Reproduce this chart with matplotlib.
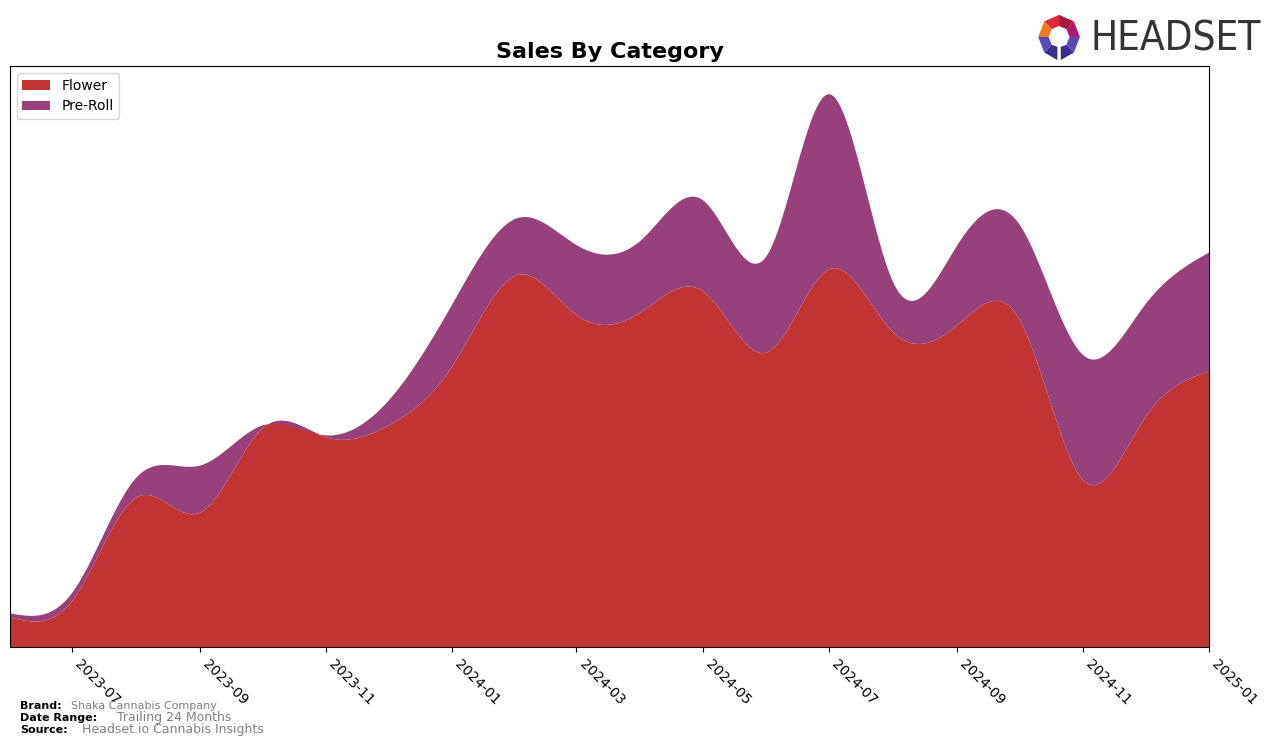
import numpy as np
import pandas as pd
import matplotlib.pyplot as plt
import matplotlib.dates as mdates
from matplotlib.patches import Polygon

months = pd.date_range('2023-06-01', '2025-01-01', freq='MS')
flower = [30, 47, 150, 135, 219, 210, 222, 282, 372, 332, 335, 356, 295, 378, 315, 322, 328, 167, 230, 276]
preroll = [4, 8, 20, 47, 3, 2, 25, 62, 57, 70, 72, 91, 97, 175, 50, 80, 95, 125, 113, 119]

colors = ['#c03434', '#974079']
labels = ['Flower', 'Pre-Roll']


def spline(x, y, xs):
    # natural cubic spline
    x = np.asarray(x, float)
    y = np.asarray(y, float)
    n = len(x)
    h = np.diff(x)
    A = np.zeros((n, n))
    b = np.zeros(n)
    A[0, 0] = A[-1, -1] = 1
    for i in range(1, n - 1):
        A[i, i - 1] = h[i - 1]
        A[i, i] = 2 * (h[i - 1] + h[i])
        A[i, i + 1] = h[i]
        b[i] = 3 * ((y[i + 1] - y[i]) / h[i] - (y[i] - y[i - 1]) / h[i - 1])
    c = np.linalg.solve(A, b)
    idx = np.clip(np.searchsorted(x, xs) - 1, 0, n - 2)
    dx = xs - x[idx]
    bb = (y[idx + 1] - y[idx]) / h[idx] - h[idx] * (2 * c[idx] + c[idx + 1]) / 3
    dd = (c[idx + 1] - c[idx]) / (3 * h[idx])
    return y[idx] + bb * dx + c[idx] * dx ** 2 + dd * dx ** 3


xn = mdates.date2num(months)
xs = np.linspace(xn[0], xn[-1], 600)
f_s = spline(xn, flower, xs)
p_s = spline(xn, preroll, xs)

fig = plt.figure(figsize=(12.76, 7.46), dpi=100)
ax = fig.add_axes([0.0078, 0.1327, 0.9397, 0.7788])

ax.fill_between(xs, 0, f_s, color=colors[0], label=labels[0], linewidth=0)
ax.fill_between(xs, f_s, f_s + p_s, color=colors[1], label=labels[1], linewidth=0)

ax.set_xlim(xn[0], xn[-1])
ax.set_ylim(0, (f_s + p_s).max() * 1.05)
ax.set_yticks([])
ax.xaxis.set_major_locator(mdates.MonthLocator(bymonth=[1, 3, 5, 7, 9, 11]))
ax.xaxis.set_major_formatter(mdates.DateFormatter('%Y-%m'))
plt.setp(ax.get_xticklabels(), rotation=-45, ha='left', va='top', fontsize=10)
ax.set_title('Sales By Category', fontsize=16, fontweight='bold')
ax.legend(loc='upper left', fontsize=10)

# footer
fig.text(0.016, 0.049, 'Brand:', fontsize=8, fontweight='bold')
fig.text(0.056, 0.049, 'Shaka Cannabis Company', fontsize=8, color='gray')
fig.text(0.016, 0.033, 'Date Range:', fontsize=8, fontweight='bold')
fig.text(0.092, 0.033, 'Trailing 24 Months', fontsize=9, color='gray')
fig.text(0.016, 0.017, 'Source:', fontsize=8, fontweight='bold')
fig.text(0.064, 0.017, 'Headset.io Cannabis Insights', fontsize=9, color='gray')

# logo
fig.text(0.855, 0.947, 'HEADSET', fontsize=29, color='#333333', va='center', ha='left',
         family='DejaVu Sans', fontstretch='condensed')
lax = fig.add_axes([0.812, 0.915, 0.036, 0.068])
lax.set_xlim(-1.1, 1.1)
lax.set_ylim(-1.2, 1.1)
lax.axis('off')
ang = np.deg2rad(90 + np.arange(8) * 45)
outer = np.c_[np.cos(ang), np.sin(ang)]
inner = outer * 0.5
seg_cols = ['#e0283a', '#f07a20', '#5a4ab8', '#3a2f90', '#3a2f90', '#5a4ab8', '#b0176a', '#a8183c']
for i in range(8):
    j = (i + 1) % 8
    pts = [outer[i], outer[j], inner[j], inner[i]]
    if i == 3:
        pts = [outer[i], [-0.08, -1.05], [-0.08, -0.45], inner[i]]
    if i == 4:
        pts = [[0.08, -1.05], outer[j], inner[j], [0.08, -0.45]]
    lax.add_patch(Polygon(pts, color=seg_cols[i], linewidth=0))

fig.savefig('out.png', dpi=100)
